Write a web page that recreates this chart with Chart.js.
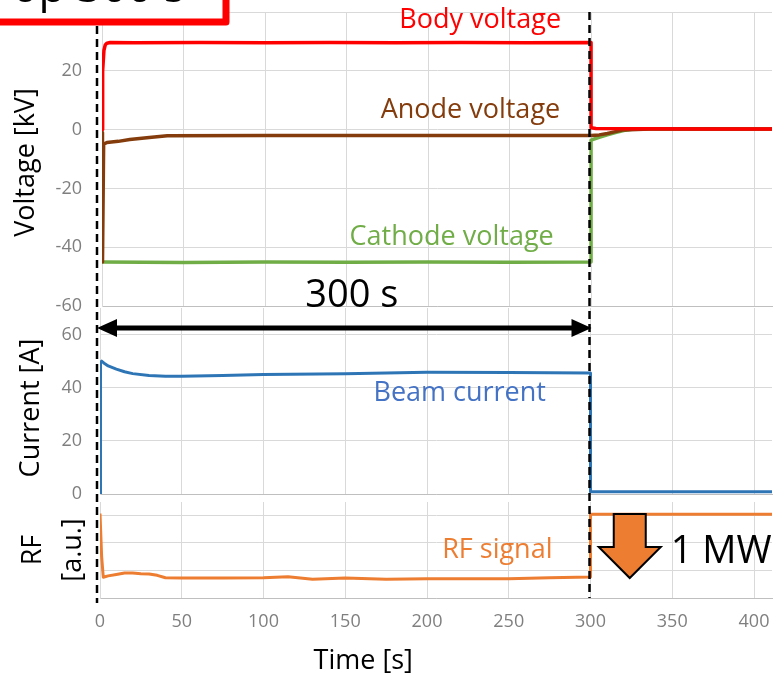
<!DOCTYPE html>
<html>
<head>
<meta charset="utf-8">
<script src="https://cdn.jsdelivr.net/npm/chart.js@4.4.1/dist/chart.umd.min.js"></script>
<style>
    html, body { margin: 0; padding: 0; background: #fff; }
    #wrap { position: relative; width: 774px; height: 676px; overflow: hidden; }
    #wrap canvas { position: absolute; left: 0; top: 0; }
</style>
</head>
<body>
<div id="wrap">
    <canvas id="voltChart" width="774" height="676"></canvas>
    <canvas id="currChart" width="774" height="676"></canvas>
    <canvas id="rfChart" width="774" height="676"></canvas>
</div>
<script>
// pulse data (time in s)
const timeTicks = [0, 50, 100, 150, 200, 250, 300, 350, 400];

const bodyT = [0, 0.4, 1.2, 2, 3, 5, 20, 60, 100, 140, 180, 220, 260, 300, 300, 303, 330, 370, 411];
const bodyV = [0, 20, 27, 28.8, 29.4, 29.6, 29.5, 29.6, 29.5, 29.6, 29.5, 29.6, 29.5, 29.6, 0.6, 0.4, 0.3, 0.2, 0.2];

const anodeT = [0, 0.3, 1, 3, 10, 17, 29, 40, 100, 200, 300, 305, 310, 315, 320, 340, 411];
const anodeV = [-1, -45, -5, -4.4, -4.0, -3.4, -2.7, -2.1, -2.0, -2.0, -2.0, -1.8, -1.3, -0.7, -0.1, 0.3, 0.2];

const cathodeT = [0.3, 50, 100, 150, 200, 250, 300, 300, 305, 310, 315, 320, 325, 340, 411];
const cathodeV = [-45, -45.2, -45, -45.1, -45, -45.1, -45, -3.6, -2.6, -1.8, -1.0, -0.3, 0.1, 0.3, 0.2];

const beamT = [0, 0.3, 1, 3, 5, 10, 15, 20, 30, 40, 50, 75, 100, 150, 200, 250, 300, 300, 350, 411];
const beamA = [0, 49.5, 50, 49, 48.2, 47, 46, 45.3, 44.6, 44.3, 44.3, 44.6, 45, 45.3, 45.8, 45.7, 45.5, 0.8, 0.8, 0.8];

const rfT = [0, 1, 2, 5, 10, 15, 20, 25, 30, 35, 40, 50, 75, 100, 115, 130, 150, 175, 200, 225, 250, 275, 300, 300, 411];
const rfV = [3.05, 1.5, 0.75, 0.8, 0.85, 0.9, 0.9, 0.88, 0.87, 0.82, 0.73, 0.72, 0.72, 0.73, 0.77, 0.68, 0.72, 0.68, 0.7, 0.7, 0.7, 0.73, 0.76, 3.03, 3.03];

const voltTicks = [-60, -40, -20, 0, 20, 40];
const currTicks = [0, 20, 40, 60];
const rfTicks = [0, 1, 2, 3];

const FONT = "'Open Sans', sans-serif";
const GRID = '#d9d9d9';
const AXIS = '#bfbfbf';
const TICK = '#7f7f7f';

Chart.defaults.font.family = FONT;
Chart.defaults.animation = false;

const pts = (t, v) => t.map((x, i) => ({ x: x, y: v[i] }));

function trace(label, t, v, color, width) {
    return {
        label: label,
        data: pts(t, v),
        borderColor: color,
        backgroundColor: color,
        borderWidth: width,
        borderJoinStyle: 'round',
        pointRadius: 0,
        fill: false,
        tension: 0
    };
}

function keepTicks(list) {
    return scale => { scale.ticks = scale.ticks.filter(t => list.includes(t.value)); };
}

// tick marks are invisible, their length only pushes the labels off the axis
function timeAxis(showLabels, height) {
    return {
        type: 'linear',
        min: 0,
        max: 411,
        ticks: { display: showLabels, stepSize: 50, includeBounds: false, autoSkip: false, color: TICK, font: { size: 18 }, padding: 0, maxRotation: 0 },
        grid: { color: GRID, drawTicks: showLabels, tickLength: 13, tickColor: 'rgba(0,0,0,0)' },
        border: { color: AXIS },
        afterBuildTicks: keepTicks(timeTicks),
        afterFit: s => { s.height = height; }
    };
}

function valueAxis(min, max, step, ticks, title, width, showLabels, labelPad) {
    return {
        min: min,
        max: max,
        ticks: { display: showLabels, stepSize: step, includeBounds: false, color: TICK, font: { size: 18 }, padding: 0 },
        grid: { color: GRID, drawTicks: true, tickLength: labelPad, tickColor: 'rgba(0,0,0,0)' },
        border: { color: GRID },
        title: title,
        afterBuildTicks: keepTicks(ticks),
        afterFit: s => { s.width = width; }
    };
}

// coloured trace names, placed in data units of each panel
function labelPlugin(id, items) {
    return {
        id: id,
        afterDraw(chart) {
            const { ctx, scales: { x, y } } = chart;
            ctx.save();
            ctx.textAlign = 'center';
            ctx.textBaseline = 'middle';
            items.forEach(it => {
                ctx.font = `${it.size}px ${FONT}`;
                ctx.fillStyle = it.color;
                ctx.fillText(it.text, x.getPixelForValue(it.t), y.getPixelForValue(it.v));
            });
            ctx.restore();
        }
    };
}

const baseOpts = {
    responsive: false,
    plugins: { legend: { display: false }, tooltip: { enabled: false } }
};

// Voltage panel
new Chart(document.getElementById('voltChart'), {
    type: 'line',
    data: {
        datasets: [
            trace('Body voltage', bodyT, bodyV, '#ff0000', 3.5),
            trace('Anode voltage', anodeT, anodeV, '#843c0c', 3.5),
            trace('Cathode voltage', cathodeT, cathodeV, '#70ad47', 3.5)
        ]
    },
    options: {
        ...baseOpts,
        layout: { padding: { top: 12, right: 2, bottom: 370, left: 0 } },
        scales: {
            x: timeAxis(false, 0),
            y: valueAxis(-60, 40, 20, voltTicks,
                { display: true, text: 'Voltage [kV] ', color: '#000', font: { size: 27 }, padding: { top: 10, bottom: 0 } },
                102, true, 20)
        }
    },
    plugins: [labelPlugin('voltLabels', [
        { text: 'Body voltage', t: 232, v: 37.3, color: '#ff0000', size: 27 },
        { text: 'Anode voltage', t: 226, v: 6.7, color: '#843c0c', size: 27 },
        { text: 'Cathode voltage', t: 214.5, v: -36.5, color: '#70ad47', size: 27 }
    ])]
});

// Current panel
new Chart(document.getElementById('currChart'), {
    type: 'line',
    data: { datasets: [trace('Beam current', beamT, beamA, '#2e75b6', 3)] },
    options: {
        ...baseOpts,
        layout: { padding: { top: 308, right: 2, bottom: 182, left: 0 } },
        scales: {
            x: timeAxis(false, 0),
            y: valueAxis(0, 70, 20, currTicks,
                { display: true, text: 'Current [A]  ', color: '#000', font: { size: 27 }, padding: { top: 15, bottom: 0 } },
                100, true, 18)
        }
    },
    plugins: [labelPlugin('currLabels', [
        { text: 'Beam current', t: 220, v: 38, color: '#4472c4', size: 27 }
    ])]
});

// annotations that span all panels: markers, arrows, boxed caption
const overlay = {
    id: 'overlay',
    afterDraw(chart) {
        const { ctx, scales: { x, y } } = chart;
        const x0 = x.getPixelForValue(0) - 3;
        const x300 = x.getPixelForValue(300) - 1;
        ctx.save();

        // RF power arrow
        const tip = x.getPixelForValue(324);
        const top = y.getPixelForValue(3.0) - 1;
        ctx.beginPath();
        ctx.moveTo(tip - 16, top);
        ctx.lineTo(tip + 16, top);
        ctx.lineTo(tip + 16, top + 33);
        ctx.lineTo(tip + 31, top + 33);
        ctx.lineTo(tip, top + 64);
        ctx.lineTo(tip - 31, top + 33);
        ctx.lineTo(tip - 16, top + 33);
        ctx.closePath();
        ctx.fillStyle = '#ed7d31';
        ctx.fill();
        ctx.lineWidth = 2;
        ctx.strokeStyle = '#000';
        ctx.lineJoin = 'miter';
        ctx.stroke();

        ctx.fillStyle = '#000';
        ctx.textBaseline = 'middle';
        ctx.textAlign = 'left';
        ctx.font = `38px ${FONT}`;
        ctx.fillText('1 MW', x.getPixelForValue(349), y.getPixelForValue(1.65));

        // time axis title
        ctx.textAlign = 'center';
        ctx.font = `27px ${FONT}`;
        ctx.fillText('Time [s]', x.getPixelForValue(161), 661);

        // dashed markers at start and end of the pulse
        ctx.setLineDash([8, 5]);
        ctx.lineWidth = 2.5;
        ctx.beginPath();
        ctx.moveTo(x0, 0);
        ctx.lineTo(x0, 603);
        ctx.moveTo(x300, 12);
        ctx.lineTo(x300, y.bottom);
        ctx.stroke();
        ctx.setLineDash([]);

        // 300 s double arrow
        const ay = 328;
        ctx.lineWidth = 5;
        ctx.beginPath();
        ctx.moveTo(x0 + 15, ay);
        ctx.lineTo(x300 - 15, ay);
        ctx.stroke();
        ctx.beginPath();
        ctx.moveTo(x0, ay);
        ctx.lineTo(x0 + 20, ay - 9);
        ctx.lineTo(x0 + 20, ay + 9);
        ctx.closePath();
        ctx.moveTo(x300 + 2, ay);
        ctx.lineTo(x300 - 18, ay - 9);
        ctx.lineTo(x300 - 18, ay + 9);
        ctx.closePath();
        ctx.fill();

        ctx.font = `38px ${FONT}`;
        ctx.fillText('300 s', x.getPixelForValue(154), 296);

        // boxed caption, cut by the top edge
        ctx.fillStyle = '#fff';
        ctx.fillRect(-10, -10, 236, 32);
        ctx.fillStyle = '#000';
        ctx.textAlign = 'left';
        ctx.textBaseline = 'alphabetic';
        ctx.font = `44px ${FONT}`;
        ctx.fillText('op 300 s', 12, 2);
        ctx.strokeStyle = '#ff0000';
        ctx.lineWidth = 7;
        ctx.lineJoin = 'round';
        ctx.strokeRect(-10, -10, 236, 32);

        ctx.restore();
    }
};

// RF panel
new Chart(document.getElementById('rfChart'), {
    type: 'line',
    data: { datasets: [trace('RF signal', rfT, rfV, '#ed7d31', 3)] },
    options: {
        ...baseOpts,
        layout: { padding: { top: 502, right: 2, bottom: 0, left: 0 } },
        scales: {
            x: timeAxis(true, 78),
            y: valueAxis(0, 3.47, 1, rfTicks,
                { display: true, text: ['RF', '[a.u.]'], color: '#000', font: { size: 27, lineHeight: 1.48 }, padding: { top: 13, bottom: 0 } },
                100, false, 18)
        }
    },
    plugins: [
        labelPlugin('rfLabels', [
            { text: 'RF signal', t: 243, v: 1.74, color: '#ed7d31', size: 27 }
        ]),
        overlay
    ]
});
</script>
</body>
</html>
